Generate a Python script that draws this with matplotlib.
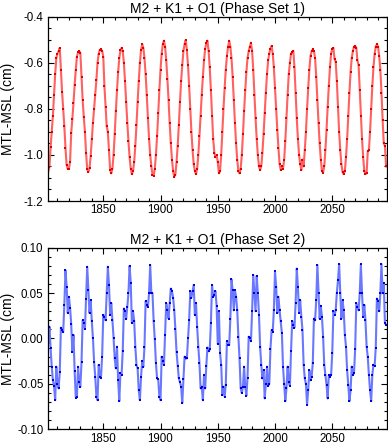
import numpy as np
import matplotlib
matplotlib.use("Agg")
from matplotlib import pyplot as plt
from matplotlib.ticker import MultipleLocator

plt.rcParams['font.family'] = ['Liberation Sans', 'DejaVu Sans']
plt.rcParams['axes.unicode_minus'] = False

start_year = 1802

# MTL-MSL (cm), one value per year from 1802
set1 = [
    -1.072, -1.051, -0.967, -0.900, -0.830, -0.740, -0.650, -0.580,
    -0.560, -0.550, -0.535, -0.631, -0.725, -0.800, -0.875, -0.970, -1.044, -1.061,
    -1.061, -1.030, -0.905, -0.844, -0.775, -0.696, -0.630, -0.573, -0.555, -0.549,
    -0.558, -0.660, -0.762, -0.836, -0.900, -0.993, -1.063, -1.073, -1.058, -1.005,
    -0.930, -0.860, -0.800, -0.740, -0.675, -0.600, -0.560, -0.545, -0.542, -0.548,
    -0.573, -0.700, -0.790, -0.875, -0.900, -0.980, -1.065, -1.080, -1.060, -1.000,
    -0.910, -0.810, -0.720, -0.640, -0.580, -0.545, -0.535, -0.550, -0.600, -0.680,
    -0.770, -0.860, -0.940, -1.010, -1.060, -1.083, -1.070, -1.030, -0.960, -0.870,
    -0.770, -0.680, -0.600, -0.545, -0.520, -0.535, -0.580, -0.650, -0.740, -0.840,
    -0.930, -1.000, -1.050, -1.085, -1.091, -1.060, -1.000, -0.920, -0.820, -0.720,
    -0.630, -0.560, -0.520, -0.504, -0.530, -0.590, -0.670, -0.760, -0.860, -0.950,
    -1.020, -1.070, -1.094, -1.085, -1.030, -0.960, -0.870, -0.770, -0.680, -0.610,
    -0.550, -0.520, -0.501, -0.545, -0.610, -0.700, -0.800, -0.900, -0.980, -1.040,
    -1.070, -1.083, -1.060, -1.000, -0.920, -0.830, -0.740, -0.660, -0.590, -0.540,
    -0.515, -0.504, -0.550, -0.620, -0.720, -0.830, -0.930, -0.990, -1.010, -1.000,
    -1.030, -1.080, -1.070, -1.000, -0.900, -0.800, -0.710, -0.630, -0.570, -0.530,
    -0.504, -0.530, -0.580, -0.660, -0.760, -0.860, -0.950, -1.020, -1.070, -1.080,
    -1.060, -1.000, -0.910, -0.810, -0.720, -0.640, -0.580, -0.550, -0.530, -0.513,
    -0.550, -0.630, -0.740, -0.840, -0.930, -1.000, -1.050, -1.065, -1.050, -0.990,
    -0.910, -0.820, -0.730, -0.650, -0.590, -0.560, -0.540, -0.527, -0.560, -0.620,
    -0.710, -0.800, -0.890, -0.970, -1.040, -1.065, -1.050, -1.060, -1.020, -0.940,
    -0.840, -0.740, -0.650, -0.600, -0.560, -0.555, -0.548, -0.620, -0.730, -0.840,
    -0.930, -1.000, -1.040, -1.065, -1.020, -1.050, -0.980, -0.900, -0.800, -0.710,
    -0.630, -0.570, -0.550, -0.542, -0.550, -0.580, -0.660, -0.760, -0.860, -0.950,
    -1.020, -1.070, -1.077, -1.050, -0.980, -0.890, -0.790, -0.700, -0.620, -0.560,
    -0.540, -0.535, -0.585, -0.595, -0.680, -0.790, -0.900, -0.980, -1.040, -1.075,
    -1.083, -1.070, -1.010, -0.930, -0.830, -0.730, -0.640, -0.580, -0.550, -0.530,
    -0.527, -0.535, -0.590, -0.610, -0.720, -0.830, -0.930, -1.010, -1.070, -1.083,
    -1.080, -0.985, -0.980, -0.900, -0.800, -0.700, -0.620, -0.560, -0.530, -0.519,
    -0.530, -0.570, -0.630, -0.730, -0.850, -0.950, -0.960, -1.050,
]

set2 = [
    -0.005, 0.013, -0.011, -0.031, -0.046, -0.052, -0.068, -0.031,
    -0.050, -0.055, -0.037, 0.012, 0.009, 0.007, 0.037, 0.075, 0.057, 0.028,
    0.046, 0.034, 0.016, -0.015, 0.004, -0.036, -0.065, -0.064, -0.031, -0.048,
    -0.053, -0.026, 0.020, 0.017, 0.011, 0.044, 0.079, 0.053, 0.028, 0.042,
    0.019, 0.000, -0.026, -0.042, -0.064, -0.068, -0.029, -0.042, -0.043, -0.020,
    0.026, 0.024, 0.020, 0.050, 0.079, 0.059, 0.026, 0.039, 0.020, 0.001,
    -0.022, -0.033, -0.009, -0.046, -0.069, -0.038, -0.040, -0.014, 0.033, 0.030,
    0.022, 0.035, 0.050, 0.080, 0.061, 0.017, 0.030, 0.019, -0.009, -0.029,
    -0.033, -0.057, -0.068, -0.042, -0.025, -0.031, -0.009, 0.041, 0.037, 0.035,
    0.050, 0.081, 0.050, 0.050, 0.019, -0.001, -0.027, -0.044, -0.045, -0.064,
    -0.068, -0.020, -0.025, -0.029, 0.004, 0.039, 0.031, 0.022, 0.039, 0.055,
    0.052, 0.045, 0.031, 0.010, -0.015, -0.030, -0.044, -0.048, -0.053, -0.071,
    -0.045, -0.020, -0.022, -0.022, 0.000, 0.020, 0.052, 0.045, 0.052, 0.059,
    0.026, 0.039, 0.013, -0.009, -0.027, -0.055, -0.053, -0.068, -0.040, -0.055,
    -0.030, -0.010, -0.014, -0.012, 0.017, 0.059, 0.046, 0.048, 0.052, 0.036,
    -0.006, 0.030, -0.016, -0.029, -0.062, -0.053, -0.064, -0.051, -0.003, -0.007,
    -0.007, 0.022, 0.065, 0.053, 0.031, 0.053, 0.046, 0.031, 0.002, -0.022,
    -0.055, -0.060, -0.053, -0.031, -0.053, -0.063, -0.043, 0.002, 0.000, -0.003,
    0.030, 0.070, 0.050, 0.030, 0.069, 0.050, 0.026, -0.009, -0.029, -0.044,
    -0.035, -0.066, -0.050, -0.031, -0.052, -0.050, -0.012, 0.009, 0.007, 0.031,
    0.074, 0.057, 0.028, 0.046, 0.031, 0.019, 0.006, -0.031, -0.050, -0.069,
    -0.055, -0.031, -0.048, -0.052, -0.014, 0.019, 0.015, 0.012, 0.039, 0.077,
    0.057, 0.028, 0.042, 0.024, 0.009, -0.029, -0.044, -0.050, -0.073, -0.057,
    -0.035, -0.046, -0.042, -0.027, 0.022, 0.020, 0.042, 0.081, 0.050, 0.022,
    0.036, 0.024, 0.002, -0.029, -0.040, -0.051, -0.066, -0.040, -0.042, -0.040,
    -0.016, 0.030, 0.026, 0.031, 0.050, 0.064, 0.082, 0.050, 0.022, 0.042,
    0.031, 0.004, -0.009, -0.035, -0.051, -0.069, -0.057, -0.031, -0.040, -0.038,
    -0.012, 0.039, 0.035, 0.031, 0.050, 0.082, 0.050, 0.024, 0.037, 0.020,
    -0.009, -0.020, -0.040, -0.057, -0.069, -0.040, -0.029, -0.030, -0.010, 0.044,
    0.041, 0.030, 0.050, 0.082, 0.050, 0.061, 0.017, 0.015,
]

years1 = np.arange(start_year, start_year + len(set1))
years2 = np.arange(start_year, start_year + len(set2))

titles = ['M2 + K1 + O1 (Phase Set 1)', 'M2 + K1 + O1 (Phase Set 2)']
ylabel = 'MTL-MSL (cm)'
xlim = (1802, 2097.5)

fig = plt.figure(figsize=(3.88, 4.45), dpi=100)
ax1 = fig.add_axes([0.1245, 0.5483, 0.872, 0.4142])
ax2 = fig.add_axes([0.1245, 0.0353, 0.872, 0.4081])

def style(ax, ymin, ymax, ymaj, ymin_step, fmt):
	ax.set_xlim(*xlim)
	ax.set_ylim(ymin, ymax)
	ax.xaxis.set_major_locator(MultipleLocator(50))
	ax.xaxis.set_minor_locator(MultipleLocator(10))
	ax.yaxis.set_major_locator(MultipleLocator(ymaj))
	ax.yaxis.set_minor_locator(MultipleLocator(ymin_step))
	ax.yaxis.set_major_formatter(plt.FormatStrFormatter(fmt))
	ax.tick_params(which='both', direction='in', top=True, right=True,
	               labelsize=8.3, width=0.8)
	ax.tick_params(axis='x', pad=2.5)
	ax.tick_params(axis='y', pad=3.5)
	ax.tick_params(which='major', length=4)
	ax.tick_params(which='minor', length=2)
	for s in ax.spines.values():
		s.set_linewidth(0.9)
	ax.set_ylabel(ylabel, fontsize=10)
	ax.yaxis.set_label_coords(-0.098, 0.5)

ax1.plot(years1, set1, '-', color='#ff6060', linewidth=1.5)
ax1.plot(years1, set1, 's', color='#e00000', markersize=1.6, markeredgewidth=0)
style(ax1, -1.2, -0.4, 0.2, 0.05, '%.1f')
ax1.set_title(titles[0], fontsize=10, pad=3)

ax2.plot(years2, set2, '-', color='#6a78ff', linewidth=1.5)
ax2.plot(years2, set2, 's', color='#0000e0', markersize=1.6, markeredgewidth=0)
style(ax2, -0.10, 0.10, 0.05, 0.01, '%.2f')
ax2.set_title(titles[1], fontsize=10, pad=3)

fig.savefig('out.png', dpi=100)
